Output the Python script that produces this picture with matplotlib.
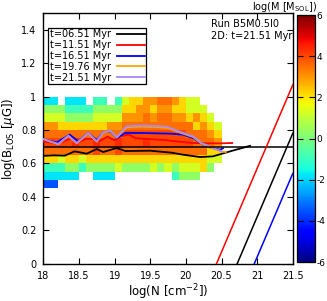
import matplotlib.pyplot as plt
import numpy as np

# heatmap: log mass per cell, columns along log(N), rows along log(B)
x_edges = np.arange(18.0, 20.51, 0.1)
y_edges = np.arange(0.45, 1.001, 0.05)

n = np.nan
B, C, T, G, YG, Y, YO, O, RO, R = -3.5, -1.8, -0.9, 0.3, 1.3, 2.2, 3.0, 3.5, 4.0, 4.4
# each column: bottom row (0.45) to top row (0.95)
columns = [
    [B, C, T, Y, O, RO, O, YO, YG, G, C],
    [B, C, T, Y, O, RO, O, YO, YG, G, C],
    [n, C, T, YG, O, RO, O, Y, YG, G, n],
    [n, C, G, Y, O, RO, O, Y, G, T, C],
    [n, C, G, Y, O, R, O, Y, G, T, C],
    [n, n, T, YG, O, RO, O, Y, G, T, C],
    [n, n, G, Y, O, RO, O, Y, G, T, n],
    [n, C, G, Y, RO, R, O, Y, YG, G, T],
    [n, C, G, Y, O, RO, O, Y, YG, G, T],
    [n, C, G, Y, O, RO, O, YO, YG, G, n],
    [n, n, YG, Y, RO, R, O, YO, YG, G, T],
    [n, n, G, Y, O, RO, RO, O, YO, Y, YG],
    [n, n, G, Y, O, RO, RO, O, YO, Y, Y],
    [n, n, G, Y, O, RO, RO, O, YO, YO, Y],
    [n, n, G, Y, O, R, RO, O, O, YO, YO],
    [n, n, YG, Y, O, RO, RO, O, YO, Y, YO],
    [n, n, G, Y, O, RO, RO, O, O, YO, O],
    [n, n, YG, Y, O, RO, RO, O, O, YO, O],
    [n, T, G, Y, O, RO, RO, O, YO, Y, YO],
    [n, G, YG, Y, O, RO, RO, O, YO, Y, Y],
    [n, G, YG, Y, O, RO, O, O, Y, YG, YG],
    [n, G, YG, Y, O, O, O, Y, YO, YG, YG],
    [n, n, Y, Y, O, O, O, YO, Y, YG, n],
    [n, n, G, YG, Y, O, YO, Y, YG, n, n],
    [n, n, n, YG, Y, YO, Y, YG, n, n, n],
]

t_labels = ['t=06.51 Myr', 't=11.51 Myr', 't=16.51 Myr', 't=19.76 Myr', 't=21.51 Myr']
t_colors = ['black', '#ff0000', '#0000ff', '#ffa500', '#a888ff']

x_black = [18.0, 18.15, 18.3, 18.44, 18.61, 18.75, 18.84, 19.03, 19.15, 19.5, 19.8, 19.96, 20.2, 20.38, 20.62, 20.9]
y_black = [0.645, 0.648, 0.646, 0.672, 0.658, 0.686, 0.668, 0.692, 0.674, 0.676, 0.664, 0.652, 0.638, 0.642, 0.672, 0.705]

x_red = [18.0, 18.1, 18.2, 18.3, 18.4, 18.5, 18.6, 18.7, 18.8, 18.9, 19.0, 19.1, 19.2, 19.3, 19.5, 19.7, 19.9, 20.1, 20.3, 20.5, 20.65]
y_red = [0.73, 0.725, 0.716, 0.735, 0.752, 0.728, 0.748, 0.745, 0.735, 0.76, 0.738, 0.765, 0.772, 0.75, 0.745, 0.74, 0.73, 0.722, 0.72, 0.72, 0.722]

x_blue = [18.0, 18.19, 18.37, 18.49, 18.63, 18.75, 18.84, 18.94, 19.03, 19.15, 19.36, 19.55, 19.78, 19.96, 20.1, 20.24, 20.36, 20.48, 20.52]
y_blue = [0.742, 0.726, 0.772, 0.732, 0.782, 0.738, 0.786, 0.792, 0.752, 0.782, 0.782, 0.78, 0.778, 0.772, 0.752, 0.712, 0.692, 0.682, 0.69]

x_orange = [18.0, 18.21, 18.35, 18.47, 18.63, 18.75, 18.84, 18.94, 19.03, 19.17, 19.36, 19.55, 19.73, 19.96, 20.1, 20.22, 20.38, 20.5, 20.56]
y_orange = [0.744, 0.714, 0.764, 0.72, 0.78, 0.73, 0.784, 0.794, 0.754, 0.816, 0.82, 0.818, 0.814, 0.778, 0.758, 0.718, 0.688, 0.672, 0.668]

x_purple = [18.0, 18.21, 18.35, 18.47, 18.63, 18.75, 18.84, 18.94, 19.03, 19.17, 19.36, 19.55, 19.73, 19.96, 20.1, 20.22, 20.38, 20.5]
y_purple = [0.746, 0.716, 0.766, 0.722, 0.782, 0.732, 0.786, 0.796, 0.756, 0.822, 0.826, 0.824, 0.82, 0.782, 0.762, 0.722, 0.692, 0.672]

y_flat = 0.70
slope_offsets = [20.43, 20.72, 20.96]
slope_colors = ['#ff0000', 'black', '#0000ff']

cb_ticks = [-6, -4, -2, 0, 2, 4, 6]
cb_ticklabels = ['-6', '-4', '-2', '0', '2', '4', '6']

plt.rcParams['font.family'] = ['DejaVu Sans']
plt.rcParams['font.size'] = 7

fig = plt.figure(figsize=(3.27, 3.01), dpi=100)
ax = fig.add_axes([0.1324, 0.124, 0.763, 0.833])
cax = fig.add_axes([0.907, 0.129, 0.056, 0.821])

Z = np.array(columns, dtype=float).T
mesh = ax.pcolormesh(x_edges, y_edges, np.ma.masked_invalid(Z), cmap='jet',
                     vmin=-6, vmax=6, shading='flat', zorder=1)

lines = [(x_black, y_black), (x_red, y_red), (x_blue, y_blue),
         (x_orange, y_orange), (x_purple, y_purple)]
for (xs, ys), lab, col in zip(lines, t_labels, t_colors):
    ax.plot(xs, ys, color=col, lw=1.3, label=lab, zorder=3)

ax.axhline(y_flat, color='black', lw=1.1, zorder=3)
for off, col in zip(slope_offsets, slope_colors):
    xs = np.array([off, 21.5])
    ax.plot(xs, xs - off, color=col, lw=1.1, zorder=3)

ax.set_xlim(18, 21.5)
ax.set_ylim(0, 1.5)
ax.set_xticks(np.arange(18, 21.51, 0.5))
ax.set_xticklabels(['18', '18.5', '19', '19.5', '20', '20.5', '21', '21.5'])
ax.set_yticks(np.arange(0, 1.41, 0.2))
ax.set_yticklabels(['0', '0.2', '0.4', '0.6', '0.8', '1', '1.2', '1.4'])
ax.tick_params(direction='in', top=True, right=True, length=4, width=0.8, labelsize=7, pad=5)
for s in ax.spines.values():
    s.set_linewidth(1.0)

ax.set_xlabel(r'log(N [cm$^{-2}$])', fontsize=8.5, labelpad=1)
ax.set_ylabel(r'log(B$_{\rm LOS}$ [$\mu$G])', fontsize=8.5, labelpad=3)

ax.text(20.35, 1.432, 'Run B5M0.5I0', fontsize=7, va='center', ha='left')
ax.text(20.35, 1.36, '2D: t=21.51 Myr', fontsize=7, va='center', ha='left')

leg = ax.legend(loc='upper left', bbox_to_anchor=(0.02, 0.94), borderaxespad=0,
                markerfirst=False, handlelength=2.9, fontsize=7, fancybox=False,
                framealpha=1, edgecolor='black', borderpad=0.15, labelspacing=0.08,
                handletextpad=0.6)
leg.get_frame().set_linewidth(0.9)

cb = fig.colorbar(mesh, cax=cax, ticks=cb_ticks)
cb.ax.set_yticklabels(cb_ticklabels)
cb.ax.tick_params(direction='in', left=True, right=True, length=4, width=0.8,
                  labelsize=6.5, pad=1)
cb.outline.set_linewidth(0.9)
fig.text(0.97, 0.978, r'log(M [M$_{\rm SOL}$])', fontsize=7, ha='right', va='center')

fig.savefig('out.png', dpi=100)
